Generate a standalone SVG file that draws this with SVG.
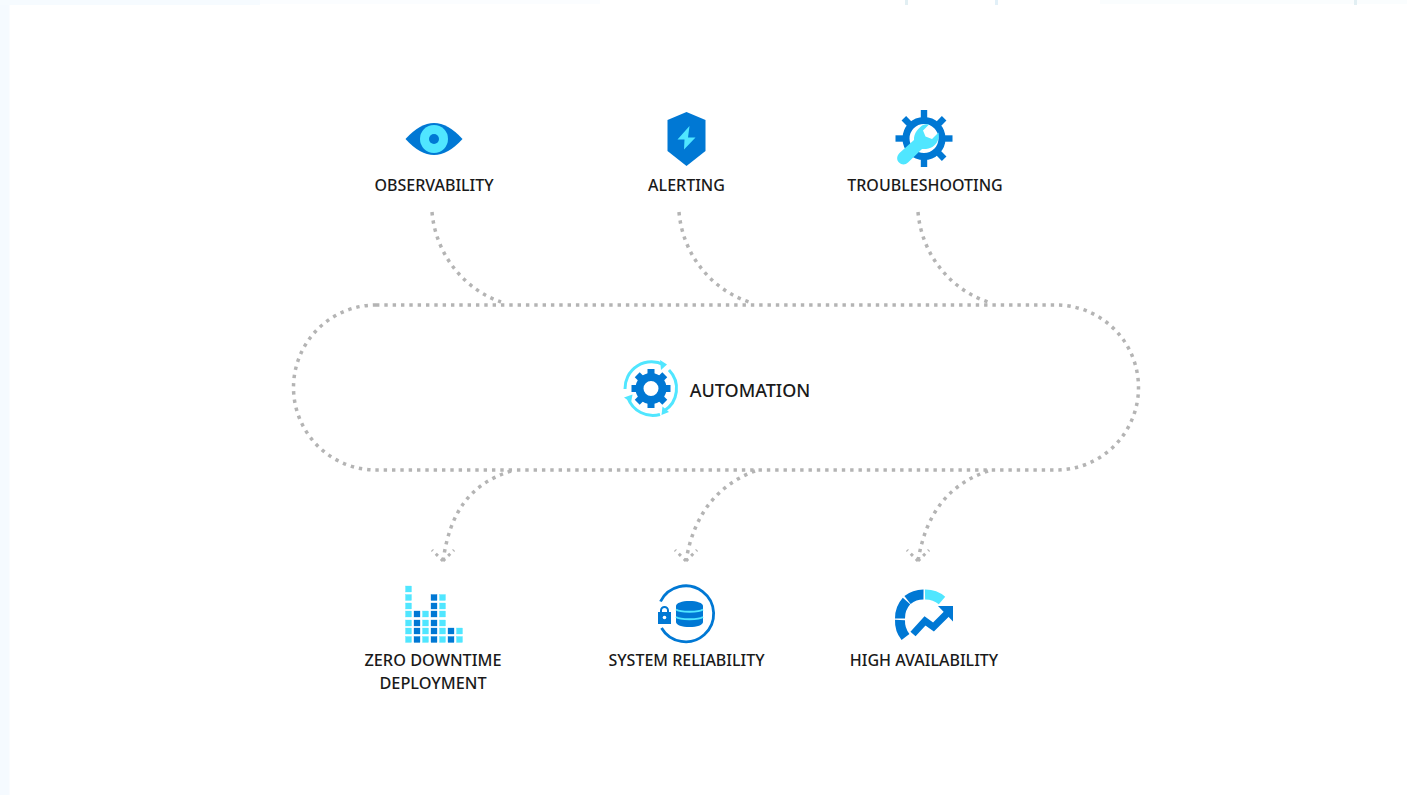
<svg xmlns="http://www.w3.org/2000/svg" xmlns:xlink="http://www.w3.org/1999/xlink" width="1407" height="795" viewBox="0 0 1407 795">
<style>
.l{font-family:"Noto Sans","Open Sans","Liberation Sans",sans-serif;font-size:16px;font-weight:500;fill:#1a1a1a;text-anchor:middle}
.c{fill:none;stroke:#b4b4b4;stroke-width:3.5;stroke-dasharray:3.4 4.93}
.b{fill:#0078d4}.k{fill:#50e6ff}
.sb{fill:none;stroke:#0078d4}.sk{fill:none;stroke:#50e6ff}
.qk rect{fill:#50e6ff;stroke:#50e6ff;stroke-width:.3}
.qb rect{fill:#0078d4;stroke:#0078d4;stroke-width:.3}
</style>
<defs>
<marker id="ah" markerUnits="userSpaceOnUse" markerWidth="28" markerHeight="20" refX="14" refY="16" orient="0" overflow="visible">
<path d="M14 16L3 5M14 16L25 5" fill="none" stroke="#b4b4b4" stroke-width="3" stroke-dasharray="3 4.2"/>
</marker>
<g id="tooth8"><rect x="-3.2" y="-28.5" width="6.4" height="9"/></g>
<g id="tooth-a"><rect x="-3.5" y="-19.500" width="7" height="6"/></g>
</defs>
<rect id="bg" width="1407" height="795" fill="#fff"/>
<g id="edge">
<rect x="0" y="0" width="9.500" height="795" fill="#f5faff"/>
<rect x="0" y="0" width="260" height="5" fill="#f6fbff"/>
<rect x="260" y="0" width="340" height="4" fill="#fbfdff"/>
<rect x="1100" y="0" width="307" height="4" fill="#fafdfe"/>
<rect x="905" y="0" width="3" height="5" fill="#e2eff3"/>
<rect x="995" y="0" width="3" height="5" fill="#e2f0f8"/>
<rect x="1354" y="0" width="3" height="5" fill="#e2eff3"/>
</g>
<g id="connectors">
<rect id="automation-loop" class="c" x="293.500" y="305" width="845" height="165" rx="82.500"/>
<path class="c" d="M432 212C436 258 468 291 501 302"/>
<path class="c" d="M679 212C683 258 715 291 749 302"/>
<path class="c" d="M918 212C922 258 954 291 988 302"/>
<path class="c" d="M511 471C470 484 450 512 443 561" marker-end="url(#ah)"/>
<path class="c" d="M755 471C720 484 694 512 686 561" marker-end="url(#ah)"/>
<path class="c" d="M988 471C950 484 926 512 918 561" marker-end="url(#ah)"/>
</g>
<g id="observability">
<path class="b" d="M405.500 139Q420 123 434 123Q448 123 462.500 139Q448 155 434 155Q420 155 405.500 139Z"/>
<circle class="k" cx="434" cy="139" r="14"/><circle class="b" cx="434" cy="139" r="5"/>
<text class="l" x="434" y="190.500">OBSERVABILITY</text>
</g>
<g id="alerting">
<path class="b" d="M686.500 112L705.500 120V151L686.500 166L667.500 151V120Z"/>
<path class="k" d="M689.500 126L677.500 139.500H684.500L684 149.500L695.500 137.500H688Z"/>
<text class="l" x="686.500" y="190.500">ALERTING</text>
</g>
<g id="troubleshooting">
<circle class="sb" cx="924" cy="138.500" r="18" stroke-width="7"/>
<g class="b">
<use xlink:href="#tooth8" transform="translate(924 138.500)"/>
<use xlink:href="#tooth8" transform="translate(924 138.500) rotate(45)"/>
<use xlink:href="#tooth8" transform="translate(924 138.500) rotate(90)"/>
<use xlink:href="#tooth8" transform="translate(924 138.500) rotate(135)"/>
<use xlink:href="#tooth8" transform="translate(924 138.500) rotate(180)"/>
<use xlink:href="#tooth8" transform="translate(924 138.500) rotate(225)"/>
<use xlink:href="#tooth8" transform="translate(924 138.500) rotate(270)"/>
<use xlink:href="#tooth8" transform="translate(924 138.500) rotate(315)"/>
</g>
<path class="k" d="M923 125C919 127.500 913.500 133 914 140L899.500 153C896.500 156 896.500 160 899 162.500C901.500 165 905.500 165 908 162.500L922 149C930 149.500 936 146 938 140C939 137 939 134.500 938.500 132.500L932 139L925.500 136.500L923 130.500L929 124.500C927 124 925 124 923 125Z"/>
<text class="l" x="925" y="190.500">TROUBLESHOOTING</text>
</g>
<g id="automation">
<circle class="sb" cx="651" cy="388.500" r="11.500" stroke-width="8"/>
<g class="b">
<use xlink:href="#tooth-a" transform="translate(651 388.500)"/>
<use xlink:href="#tooth-a" transform="translate(651 388.500) rotate(45)"/>
<use xlink:href="#tooth-a" transform="translate(651 388.500) rotate(90)"/>
<use xlink:href="#tooth-a" transform="translate(651 388.500) rotate(135)"/>
<use xlink:href="#tooth-a" transform="translate(651 388.500) rotate(180)"/>
<use xlink:href="#tooth-a" transform="translate(651 388.500) rotate(225)"/>
<use xlink:href="#tooth-a" transform="translate(651 388.500) rotate(270)"/>
<use xlink:href="#tooth-a" transform="translate(651 388.500) rotate(315)"/>
</g>
<path class="sk" stroke-width="3" d="M625 389A26.500 26.500 0 0 1 664 365"/>
<path class="k" d="M660 360L667 364.500L661 370Z"/>
<path class="sk" stroke-width="3" d="M669 370A26.500 26.500 0 0 1 664 411"/>
<path class="k" d="M662.500 406.500L661.500 415L669 412Z"/>
<path class="sk" stroke-width="3" d="M660 414.500A26.500 26.500 0 0 1 628 398"/>
<path class="k" d="M624 397.500L632.500 394.500L631 402.500Z"/>
<text class="l" x="750" y="396.500" style="font-size:18px">AUTOMATION</text>
</g>
<g id="zero-downtime-deployment">
<g class="qk">
<rect x="405.500" y="586" width="6" height="6"/><rect x="405.500" y="594.500" width="6" height="6"/><rect x="405.500" y="603" width="6" height="6"/><rect x="405.500" y="611" width="6" height="6"/><rect x="405.500" y="620" width="6" height="6"/><rect x="405.500" y="628" width="6" height="6"/><rect x="405.500" y="636.500" width="6" height="6"/>
<rect x="422.500" y="611" width="6" height="6"/><rect x="422.500" y="620" width="6" height="6"/><rect x="422.500" y="628" width="6" height="6"/><rect x="422.500" y="636.500" width="6" height="6"/>
<rect x="439.500" y="594.500" width="6" height="6"/><rect x="439.500" y="603" width="6" height="6"/><rect x="439.500" y="611" width="6" height="6"/><rect x="439.500" y="620" width="6" height="6"/><rect x="439.500" y="628" width="6" height="6"/><rect x="439.500" y="636.500" width="6" height="6"/>
<rect x="456.500" y="628" width="6" height="6"/><rect x="456.500" y="636.500" width="6" height="6"/>
</g>
<g class="qb">
<rect x="414" y="611" width="6" height="6"/><rect x="414" y="620" width="6" height="6"/><rect x="414" y="628" width="6" height="6"/><rect x="414" y="636.500" width="6" height="6"/>
<rect x="431" y="594.500" width="6" height="6"/><rect x="431" y="603" width="6" height="6"/><rect x="431" y="611" width="6" height="6"/><rect x="431" y="620" width="6" height="6"/><rect x="431" y="628" width="6" height="6"/><rect x="431" y="636.500" width="6" height="6"/>
<rect x="448" y="628" width="6" height="6"/><rect x="448" y="636.500" width="6" height="6"/>
</g>
<text class="l" x="433" y="666" style="font-size:16.300px">ZERO DOWNTIME</text>
<text class="l" x="433" y="689" style="font-size:16.300px">DEPLOYMENT</text>
</g>
<g id="system-reliability">
<path class="sb" stroke-width="2.800" transform="translate(-1.500 1)" d="M662 600.500A28 28 0 1 1 663 627"/>
<path class="b" d="M658 612H660V610.500A4.500 4.500 0 0 1 669 610.500V612H671V624H658ZM662 612H667V610.500A2.500 2.500 0 0 0 662 610.500Z"/>
<circle cx="664.500" cy="617.500" r="1.800" fill="#fff"/>
<path class="b" d="M676 606C676 603 682 601 689.500 601C697 601 703 603 703 606V622C703 625 697 627 689.500 627C682 627 676 625 676 622Z"/>
<path class="sk" stroke-width="2" d="M676 609.500C680 612.500 699 612.500 703 609.500M676 617C680 620 699 620 703 617"/>
<text class="l" x="686.500" y="666">SYSTEM RELIABILITY</text>
</g>
<g id="high-availability">
<g transform="translate(0 1)">
<path class="sb" stroke-width="10" d="M905.500 636A25.500 25.500 0 0 1 900 619"/>
<path class="sb" stroke-width="10" d="M900 617.500A25.500 25.500 0 0 1 906.500 600"/>
<path class="sb" stroke-width="10" d="M907.500 599A25.500 25.500 0 0 1 923.500 593.500"/>
<path class="sk" stroke-width="10" d="M925 593.500A25.500 25.500 0 0 1 942 599.500"/>
</g>
<path class="sb" stroke-width="7" d="M913 634L925 621L933.500 627L947 613.500"/>
<path class="b" d="M938 606H953V621.500Z"/>
<text class="l" x="924" y="666">HIGH AVAILABILITY</text>
</g>
</svg>
